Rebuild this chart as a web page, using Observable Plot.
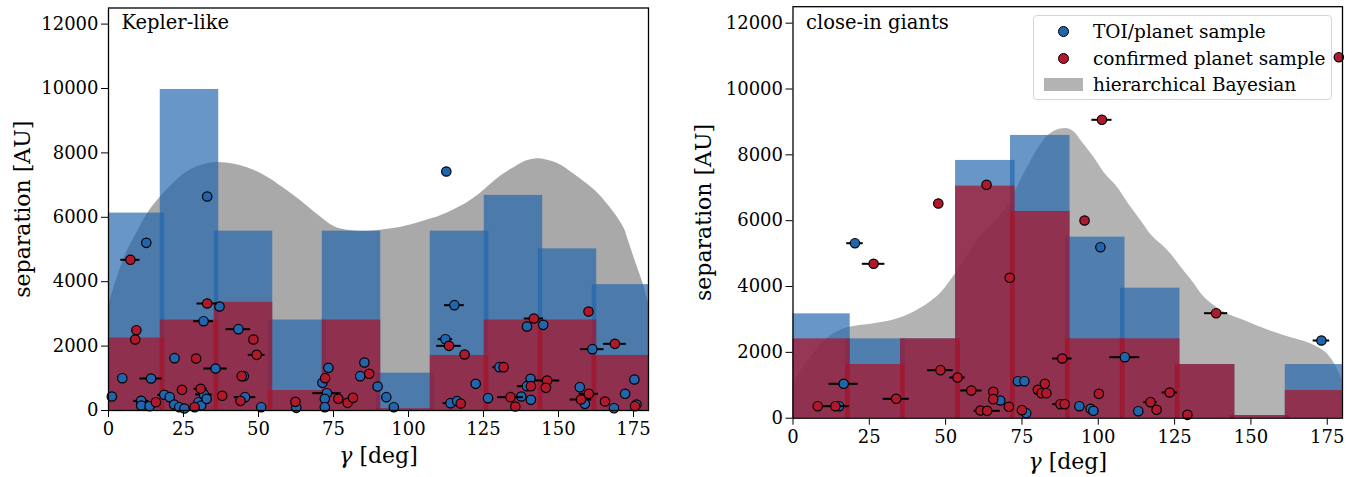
<!DOCTYPE html>
<html>
<head>
<meta charset="utf-8">
<script src="https://cdn.jsdelivr.net/npm/d3@7"></script>
<script src="https://cdn.jsdelivr.net/npm/@observablehq/plot@0.6"></script>
<style>
  html, body { margin: 0; padding: 0; background: #fff; overflow: hidden; }
  #wrap { position: relative; width: 1367px; height: 477px; font-family: "DejaVu Serif", serif; }
  #wrap svg { position: absolute; top: 0; }
  #legend { position: absolute; left: 1033px; top: 15px; width: 299px; height: 85px;
            border: 1px solid #d6d6d6; border-radius: 4px; background: rgba(255,255,255,0.8);
            font: 18.5px "DejaVu Serif", serif; color: #000; box-sizing: border-box; padding-top: 2px; }
  .lrow { display: flex; align-items: center; height: 26.7px; }
  .lmark { width: 59px; display: flex; justify-content: center; align-items: center; }
  .lmark span { display: block; }
</style>
</head>
<body>
<div id="wrap"></div>
<script>
// ---------------- data ----------------
const binCenters = [9, 27, 45, 63, 81, 99, 117, 135, 153, 171];
const xTicks = [0, 25, 50, 75, 100, 125, 150, 175];
const yTicks = [0, 2000, 4000, 6000, 8000, 10000, 12000];

// Kepler-like panel histograms (separation units)
const keplerToiHist  = [6130, 9970, 5570, 2810, 5570, 1160, 5570, 6680, 5020, 3910];
const keplerConfHist = [2250, 2810, 3360, 620, 2810, 55, 1710, 2810, 2810, 1710];
// close-in giants panel histograms
const giantsToiHist  = [3170, 2410, 2410, 7830, 8590, 5500, 3950, 1630, 80, 1630];
const giantsConfHist = [2410, 1630, 2410, 7050, 6280, 2410, 2410, 1630, 80, 840];

// hierarchical Bayesian curves
const keplerHbGamma = [0, 3, 6, 8.2, 13.3, 16.6, 20, 26, 31, 36.7, 42, 48, 53, 58, 64, 70, 75, 80, 85, 90, 95, 100, 105, 110.9, 115, 119.8, 124, 127.6, 131, 135.4, 139, 143.2, 146, 149.9, 155, 160, 162.2, 165.5, 168.8, 171, 172.2, 173.3, 175, 176.7, 178.3, 180];
const keplerHbSep   = [3250, 4150, 4900, 5300, 6150, 6550, 6900, 7400, 7620, 7700, 7650, 7480, 7245, 6930, 6520, 6060, 5720, 5590, 5560, 5590, 5650, 5745, 5880, 6055, 6230, 6470, 6750, 7040, 7300, 7556, 7740, 7817, 7780, 7660, 7350, 7000, 6830, 6500, 6110, 5800, 5590, 5280, 4800, 4350, 3913, 3310];
const giantsHbGamma = [0, 5, 11.2, 15, 18.9, 25, 30, 34.1, 38, 41.7, 45, 48.3, 51, 53.3, 57, 60.3, 66, 70, 73.4, 77, 80, 83.2, 86, 89.3, 92, 95, 98.5, 102, 106.2, 110, 114, 117.5, 121, 123.7, 127, 131.4, 134, 137.9, 142, 147.8, 154, 160.8, 165, 169.6, 172, 175, 178, 180];
const giantsHbSep   = [1050, 1750, 2420, 2650, 2770, 2850, 2920, 3015, 3150, 3330, 3530, 3786, 4100, 4395, 4900, 5395, 5950, 6400, 7000, 7650, 8150, 8550, 8730, 8800, 8700, 8350, 7933, 7450, 7021, 6500, 6000, 5550, 5250, 4997, 4600, 4085, 3750, 3425, 3180, 2970, 2730, 2514, 2400, 2261, 2150, 1957, 1550, 1146];

// Kepler-like: TOI/planet sample points
const keplerToiGamma = [1.1, 4.6, 12.6, 14.2, 10.9, 10.9, 13.7, 18.6, 20.4, 22.0, 21.9, 23.6, 25.3, 30.0, 30.9, 31.8, 32.7, 31.7, 37.0, 35.7, 43.3, 45.1, 45.5, 50.9, 62.6, 71.3, 73.3, 72.8, 72.1, 72.1, 85.3, 83.9, 89.7, 92.6, 95.1, 115.3, 112.3, 122.4, 126.5, 114.0, 116.2, 130.3, 137.6, 140.7, 139.5, 140.8, 139.5, 144.9, 161.3, 157.1, 158.8, 168.5, 172.2, 175.3, 176.0, 32.9, 112.6];
const keplerToiSep   = [435, 1003, 5207, 994, 300, 155, 134, 487, 414, 1625, 186, 103, 60, 258, 155, 497, 362, 2774, 3230, 1304, 2526, 1066, 414, 103, 83, 860, 1325, 538, 362, 103, 1491, 1066, 745, 414, 103, 3271, 2215, 828, 383, 228, 290, 1346, 435, 983, 756, 331, 2609, 2660, 1905, 725, 207, 72, 518, 963, 186, 6646, 7422];
const keplerToiErr   = [0, 0, 0, 3.7, 2.5, 0, 0, 2.2, 0, 0, 0, 0, 0, 0, 0, 2.8, 0, 3.3, 0, 3.9, 4.1, 0, 3.6, 0, 0, 0, 0, 4.7, 0, 0, 0, 0, 0, 0, 0, 3.3, 2.4, 0, 0, 2.5, 0, 2.2, 0, 0, 3.2, 0, 0, 0, 3.9, 0, 0, 0, 0, 0, 0, 0, 0];
// Kepler-like: confirmed planet sample points
const keplerConfGamma = [7.3, 9.3, 8.9, 15.8, 24.5, 29.2, 28.7, 30.7, 32.9, 37.9, 48.3, 49.4, 44.4, 44.0, 62.3, 72.2, 76.6, 79.7, 81.5, 86.9, 113.5, 118.7, 117.4, 131.7, 134.0, 135.6, 140.8, 146.2, 145.8, 141.8, 160.0, 168.8, 157.5, 160.1, 165.5, 175.5];
const keplerConfSep   = [4680, 2494, 2205, 258, 642, 1615, 103, 673, 3323, 456, 2205, 1729, 1066, 300, 269, 1004, 362, 238, 393, 1139, 2008, 1739, 217, 1346, 414, 124, 756, 932, 704, 2857, 3075, 2070, 341, 518, 279, 134];
const keplerConfErr   = [3.2, 0, 0, 1.5, 0, 0, 0, 2.2, 3.4, 0, 0, 2.8, 0, 0, 0, 0, 0, 0, 0, 0, 4.1, 0, 0, 0, 4.3, 0, 0, 4.2, 0, 3.2, 0, 3.8, 3.6, 3.2, 0, 0];

// close-in giants: TOI/planet sample points
const giantsToiGamma = [20.3, 16.6, 15.1, 67.9, 73.7, 75.8, 76.4, 100.7, 108.7, 93.8, 97.5, 98.4, 113.1, 173.1];
const giantsToiSep   = [5316, 1045, 365, 538, 1124, 1124, 153, 5195, 1853, 365, 284, 224, 213, 2360];
const giantsToiErr   = [2.7, 4.8, 0, 0, 0, 1.5, 0, 1.5, 4.9, 0, 0, 0, 0, 2.7];
// close-in giants: confirmed planet sample points
const giantsConfGamma = [26.4, 71.0, 8.1, 13.9, 33.8, 48.3, 53.9, 58.4, 65.6, 65.6, 61.4, 63.6, 70.7, 75.0, 47.6, 63.4, 101.2, 95.5, 178.8, 138.6, 88.2, 80.2, 82.5, 81.4, 83.0, 100.2, 87.6, 89.0, 117.1, 119.1, 123.4, 129.2];
const giantsConfSep   = [4690, 4265, 365, 365, 589, 1459, 1237, 842, 802, 578, 234, 224, 346, 245, 6522, 7090, 9064, 6006, 10966, 3190, 1813, 862, 1045, 760, 760, 740, 426, 426, 487, 254, 781, 102];
const giantsConfErr   = [3.7, 0, 0, 4.5, 4.3, 4.2, 2.5, 3.5, 0, 0, 0, 4.3, 0, 0, 1.5, 0, 3.3, 0, 0, 3.8, 3.2, 0, 0, 2.3, 0, 0, 2.5, 0, 2.2, 0, 2.5, 0];

const legendLabels = ["TOI/planet sample", "confirmed planet sample", "hierarchical Bayesian"];

// ---------------- styles ----------------
const BLUE_BAR = "#2166ac", RED_BAR = "#a8142a";
const BLUE_DOT = "#2166ac", RED_DOT = "#b2182b";
const BAR_HALF = 9.75;

function pts(g, s, e) { return g.map((x, i) => ({x, y: s[i], e: e[i]})); }
function bars(h) { return binCenters.map((c, i) => ({x1: Math.max(0, c - BAR_HALF), x2: Math.min(180, c + BAR_HALF), y: h[i]})); }

function panel(o) {
  const hb = o.hbG.map((x, i) => ({x, y: o.hbS[i]}));
  const toi = pts(o.toiG, o.toiS, o.toiE);
  const conf = pts(o.confG, o.confS, o.confE);
  const errMark = (data) => Plot.ruleY(data.filter(d => d.e > 0), {y: "y", x1: d => d.x - d.e, x2: d => d.x + d.e, stroke: "black", strokeWidth: 2});
  const svg = Plot.plot({
    width: o.width, height: 477,
    marginLeft: o.ml, marginRight: o.mr, marginTop: o.mt, marginBottom: o.mb,
    style: {fontFamily: "DejaVu Serif", fontSize: "18px", color: "black", background: "transparent", overflow: "visible"},
    x: {domain: [0, 180]},
    y: {domain: [0, 12500]},
    marks: [
      Plot.areaY(hb, {x: "x", y: "y", fill: o.gray, curve: "monotone-x"}),
      Plot.rect(bars(o.toiH), {x1: "x1", x2: "x2", y1: d => 0, y2: "y", fill: BLUE_BAR, fillOpacity: 0.68}),
      Plot.rect(bars(o.confH), {x1: "x1", x2: "x2", y1: d => 0, y2: "y", fill: RED_BAR, fillOpacity: 0.72}),
      errMark(toi),
      Plot.dot(toi, {x: "x", y: "y", r: 4.7, fill: BLUE_DOT, stroke: "black", strokeWidth: 1.2}),
      errMark(conf),
      Plot.dot(conf, {x: "x", y: "y", r: 4.7, fill: RED_DOT, stroke: "black", strokeWidth: 1.2}),
      Plot.frame({stroke: "black", strokeWidth: 1.3}),
      Plot.axisX({ticks: xTicks, tickSize: 7, tickPadding: 5, tickFormat: "d", label: null, fontSize: 18}),
      Plot.axisY({ticks: yTicks, tickSize: 7, tickPadding: 3, tickFormat: "d", label: null, fontSize: 18}),
      Plot.text([o.title], {text: d => d, frameAnchor: "top-left", dx: 13, dy: o.titleDy, textAnchor: "start", lineAnchor: "middle", fontSize: 19.5}),
      Plot.text(["separation [AU]"], {text: d => d, frameAnchor: "left", dx: o.yLabDx, rotate: -90, textAnchor: "middle", lineAnchor: "middle", fontSize: 22}),
      Plot.text(["γ [deg]"], {text: d => d, frameAnchor: "bottom", dy: o.xLabDy, textAnchor: "middle", lineAnchor: "middle", fontSize: 22})
    ]
  });
  svg.style.left = o.left + "px";
  svg.querySelectorAll("text").forEach(t => {
    if (t.textContent === "γ [deg]") t.innerHTML = '<tspan font-style="italic">γ</tspan> [deg]';
  });
  return svg;
}

const wrap = document.getElementById("wrap");
wrap.appendChild(panel({
  left: 0, width: 683, ml: 108, mr: 35, mt: 7.5, mb: 67,
  gray: "#a9a9a9", title: "Kepler-like", titleDy: 15, yLabDx: -86, xLabDy: 45,
  hbG: keplerHbGamma, hbS: keplerHbSep, toiH: keplerToiHist, confH: keplerConfHist,
  toiG: keplerToiGamma, toiS: keplerToiSep, toiE: keplerToiErr,
  confG: keplerConfGamma, confS: keplerConfSep, confE: keplerConfErr
}));
wrap.appendChild(panel({
  left: 683, width: 684, ml: 109.5, mr: 25, mt: 6.2, mb: 59.3,
  gray: "#b3b3b3", title: "close-in giants", titleDy: 16, yLabDx: -89, xLabDy: 44,
  hbG: giantsHbGamma, hbS: giantsHbSep, toiH: giantsToiHist, confH: giantsConfHist,
  toiG: giantsToiGamma, toiS: giantsToiSep, toiE: giantsToiErr,
  confG: giantsConfGamma, confS: giantsConfSep, confE: giantsConfErr
}));

// legend
const leg = document.createElement("div");
leg.id = "legend";
const markers = [
  `<span style="width:9px;height:9px;border-radius:50%;background:${BLUE_DOT};border:1.2px solid #000"></span>`,
  `<span style="width:9px;height:9px;border-radius:50%;background:${RED_DOT};border:1.2px solid #000"></span>`,
  `<span style="width:39px;height:13px;background:#b3b3b3"></span>`
];
legendLabels.forEach((lab, i) => {
  const row = document.createElement("div");
  row.className = "lrow";
  row.innerHTML = `<div class="lmark">${markers[i]}</div><div>${lab}</div>`;
  leg.appendChild(row);
});
wrap.appendChild(leg);
</script>
</body>
</html>
